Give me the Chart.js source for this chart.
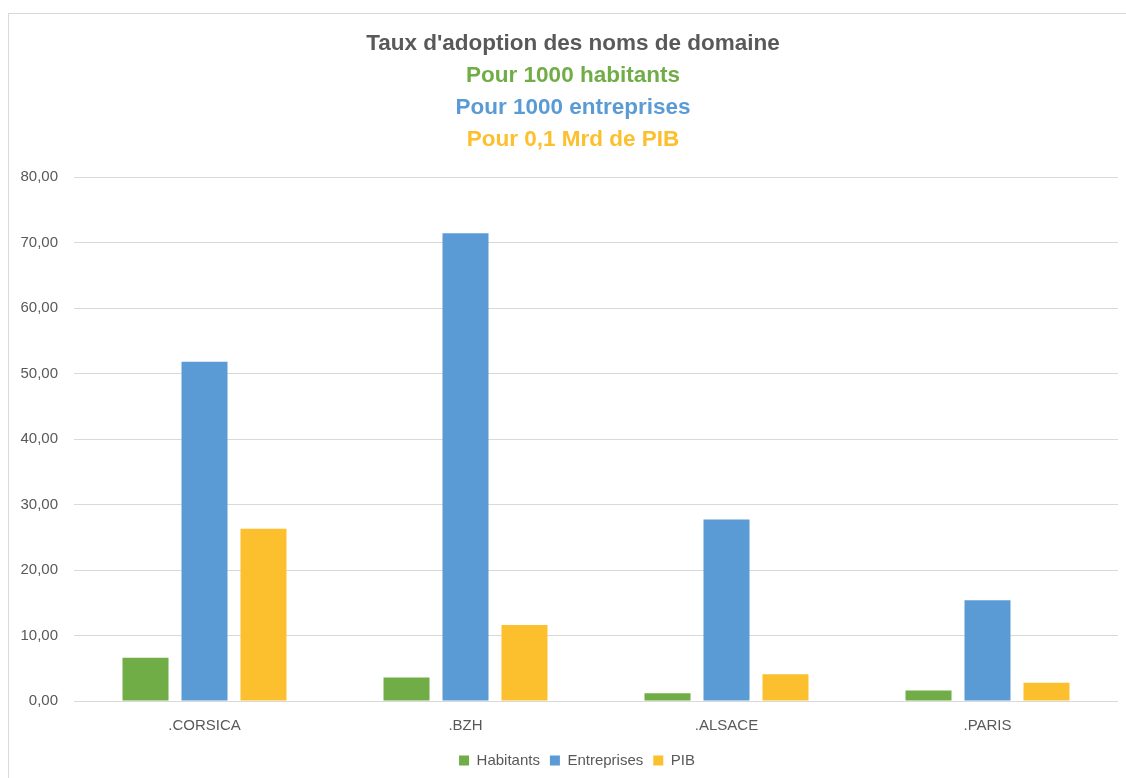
<!DOCTYPE html>
<html>
<head>
<meta charset="utf-8">
<script src="https://cdn.jsdelivr.net/npm/chart.js@4"></script>
<style>
  html,body{margin:0;padding:0;background:#fff;}
  #wrap{position:absolute;left:0;top:0;width:1126px;height:778px;}
  #frame{position:absolute;left:8px;top:13px;width:1130px;height:780px;border-left:1px solid #d9d9d9;border-top:1px solid #d9d9d9;box-sizing:border-box;pointer-events:none;}
</style>
</head>
<body>
<div id="wrap"><canvas id="c" width="1126" height="778"></canvas></div>
<div id="frame"></div>
<script>
const categories = ['.CORSICA', '.BZH', '.ALSACE', '.PARIS'];
const seriesNames = ['Habitants', 'Entreprises', 'PIB'];
const habitants = [6.6, 3.6, 1.2, 1.6];
const entreprises = [51.8, 71.4, 27.7, 15.4];
const pib = [26.3, 11.6, 4.1, 2.8];
const yTickValues = [0, 10, 20, 30, 40, 50, 60, 70, 80];
const titleLines = ["Taux d'adoption des noms de domaine", 'Pour 1000 habitants', 'Pour 1000 entreprises', 'Pour 0,1 Mrd de PIB'];

const colors = ['#70AD47', '#5B9BD5', '#FCBF2D'];
const titleColors = ['#595959', '#70AD47', '#5B9BD5', '#FCBF2D'];
const FONT = '"Liberation Sans", "DejaVu Sans", sans-serif';

const titlePlugin = {
  id: 'multiTitle',
  afterLayout(chart) {
    const lg = chart.legend;
    if (lg) { lg.left += 18; lg.right += 18; }
  },
  afterDraw(chart) {
    const ctx = chart.ctx;
    ctx.save();
    ctx.textAlign = 'center';
    ctx.textBaseline = 'middle';
    ctx.font = 'bold 22.5px ' + FONT;
    titleLines.forEach((t, i) => {
      ctx.fillStyle = titleColors[i];
      ctx.fillText(t, 573, 44 + i * 32);
    });
    ctx.restore();
  }
};

const fmt = v => v.toFixed(2).replace('.', ',');

new Chart(document.getElementById('c'), {
  type: 'bar',
  data: {
    labels: categories,
    datasets: [
      { label: seriesNames[0], data: habitants, backgroundColor: colors[0] },
      { label: seriesNames[1], data: entreprises, backgroundColor: colors[1] },
      { label: seriesNames[2], data: pib, backgroundColor: colors[2] }
    ]
  },
  options: {
    responsive: false,
    animation: false,
    devicePixelRatio: 1,
    categoryPercentage: 0.678,
    barPercentage: 0.78,
    layout: { padding: { top: 177, right: 8, left: 0, bottom: 0 } },
    plugins: {
      title: { display: false },
      tooltip: { enabled: false },
      legend: {
        position: 'bottom',
        labels: {
          boxWidth: 10, boxHeight: 10, padding: 10,
          color: '#595959',
          font: { family: FONT, size: 15 }
        }
      }
    },
    scales: {
      x: {
        grid: { display: false },
        border: { display: false },
        ticks: { color: '#595959', font: { family: FONT, size: 15 }, padding: 8 }
      },
      y: {
        min: 0, max: 80,
        afterFit(scale) { scale.width = 74; },
        afterBuildTicks(scale) { scale.ticks = yTickValues.map(v => ({ value: v })); },
        grid: { color: '#d9d9d9', lineWidth: 1, drawTicks: false },
        border: { display: false },
        ticks: { color: '#595959', font: { family: FONT, size: 15 }, padding: 16, callback: v => fmt(v) }
      }
    }
  },
  plugins: [titlePlugin]
});
</script>
</body>
</html>
